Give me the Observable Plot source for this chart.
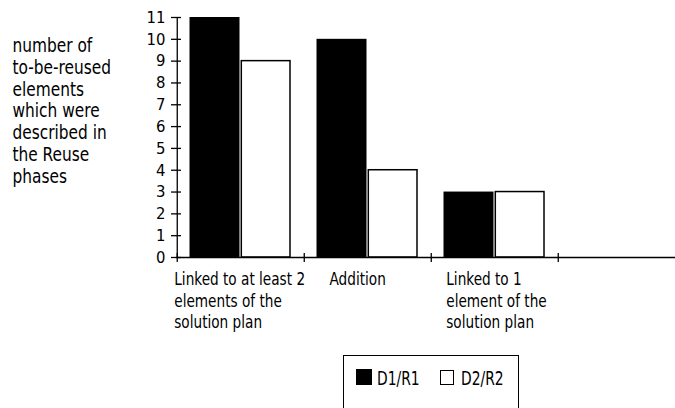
<!DOCTYPE html>
<html><head><meta charset="utf-8">
<script src="https://cdn.jsdelivr.net/npm/d3@7"></script>
<script src="https://cdn.jsdelivr.net/npm/@observablehq/plot@0.6"></script>
<style>
html,body{margin:0;padding:0;background:#fff;overflow:hidden;width:675px;height:408px;}
#wrap{position:relative;width:675px;height:408px;font-family:"DejaVu Sans Condensed","DejaVu Sans",sans-serif;}
#chart svg{display:block;}
#legend{position:absolute;left:343px;top:355px;width:176px;height:80px;box-sizing:border-box;border:1.5px solid #000;background:#fff;}
#legend .sw{position:absolute;box-sizing:border-box;}
#legend .lb{position:absolute;font-size:19px;line-height:19px;white-space:nowrap;color:#000;transform:scaleX(0.81);transform-origin:0 50%;}
</style></head><body>
<div id="wrap"><div id="chart"></div><div id="legend"></div></div>
<script>
const categories = ["Linked to at least 2\nelements of the\nsolution plan", "Addition", "Linked to 1\nelement of the\nsolution plan", ""];
const series = ["D1/R1", "D2/R2"];
const seriesFill = ["black", "white"];
const valuesD1 = [11, 10, 3];
const valuesD2 = [9, 4, 3];
const yTicks = [0, 1, 2, 3, 4, 5, 6, 7, 8, 9, 10, 11];
const yLabel = "number of\nto-be-reused\nelements\nwhich were\ndescribed in\nthe Reuse\nphases";

const FONT = '"DejaVu Sans Condensed","DejaVu Sans",sans-serif';
const xRange = [176, 686];
const bw = (xRange[1] - xRange[0]) / categories.length;
const labelOffsets = [-3, 25.3, 15];

const rowsD1 = valuesD1.map((v, i) => ({cat: categories[i], series: series[0], v}));
const rowsD2 = valuesD2.map((v, i) => ({cat: categories[i], series: series[1], v}));

const labelMarks = categories.slice(0, 3).map((c, i) =>
  Plot.text([c], {x: d => d, text: d => d, frameAnchor: "bottom", textAnchor: "start",
    lineAnchor: "top", dx: labelOffsets[i] - bw / 2, dy: 12.3, fontSize: 18.5, lineHeight: 1.165,
    fill: "black", className: "xlab"})
);

const chart = Plot.plot({
  width: 675,
  height: 354,
  marginTop: 17,
  marginBottom: 97,
  marginLeft: 176,
  marginRight: 0,
  style: {fontFamily: FONT, fontSize: "16.5px", background: "white", color: "black"},
  x: {type: "band", domain: categories, range: xRange, padding: 0},
  y: {domain: [0, 11]},
  marks: [
    Plot.barY(rowsD1, {x: "cat", y: "v", fill: seriesFill[0], insetLeft: 12.5, insetRight: 64.5}),
    Plot.barY(rowsD2, {x: "cat", y: "v", fill: seriesFill[1], stroke: "black", strokeWidth: 1.5, insetLeft: 64.3, insetRight: 14}),
    Plot.ruleY([0], {stroke: "black", strokeWidth: 1.3}),
    Plot.ruleX([categories[0]], {x: d => d, y1: () => 0, y2: () => 11, dx: -bw / 2, stroke: "black", strokeWidth: 1.3}),
    Plot.axisY({ticks: yTicks, tickSize: 10, tickPadding: 6, dx: 5, label: null, stroke: "black", strokeWidth: 1.3, fill: "black", fontSize: 16.5}),
    Plot.axisX({ticks: categories, tickSize: 9, dx: -bw / 2, dy: -4, tickFormat: () => "", label: null, stroke: "black", strokeWidth: 1.3}),
    ...labelMarks,
    Plot.text([yLabel], {text: d => d, frameAnchor: "top-left", textAnchor: "start", lineAnchor: "top",
      dx: -164, dy: 19.5, fontSize: 19, lineHeight: 1.142, fill: "black", className: "ylab"})
  ]
});
document.getElementById("chart").appendChild(chart);

// narrow the label glyphs horizontally around each text's own anchor
function squeeze(selector, s) {
  chart.querySelectorAll(selector).forEach(t => {
    const x = +t.getAttribute("x") || 0;
    const y = +t.getAttribute("y") || 0;
    const tr = t.getAttribute("transform") || "";
    t.setAttribute("transform", `${tr} translate(${x},${y}) scale(${s},1) translate(${-x},${-y})`.trim());
  });
}
squeeze(".xlab text", 0.82);
squeeze(".ylab text", 0.9);

// legend (HTML, below the SVG)
const legend = document.getElementById("legend");
const items = [
  {sq: {left: 11.5, top: 12.8, w: 16, h: 16.5, fill: seriesFill[0], border: "none"}, lbLeft: 32.8},
  {sq: {left: 95.5, top: 13.5, w: 14.3, h: 15.7, fill: seriesFill[1], border: "1.3px solid #000"}, lbLeft: 117.2}
];
items.forEach((it, i) => {
  const s = document.createElement("div");
  s.className = "sw";
  Object.assign(s.style, {left: it.sq.left + "px", top: it.sq.top + "px", width: it.sq.w + "px", height: it.sq.h + "px", background: it.sq.fill, border: it.sq.border});
  legend.appendChild(s);
  const t = document.createElement("div");
  t.className = "lb";
  t.textContent = series[i];
  Object.assign(t.style, {left: it.lbLeft + "px", top: "12.5px"});
  legend.appendChild(t);
});
</script>
</body></html>
